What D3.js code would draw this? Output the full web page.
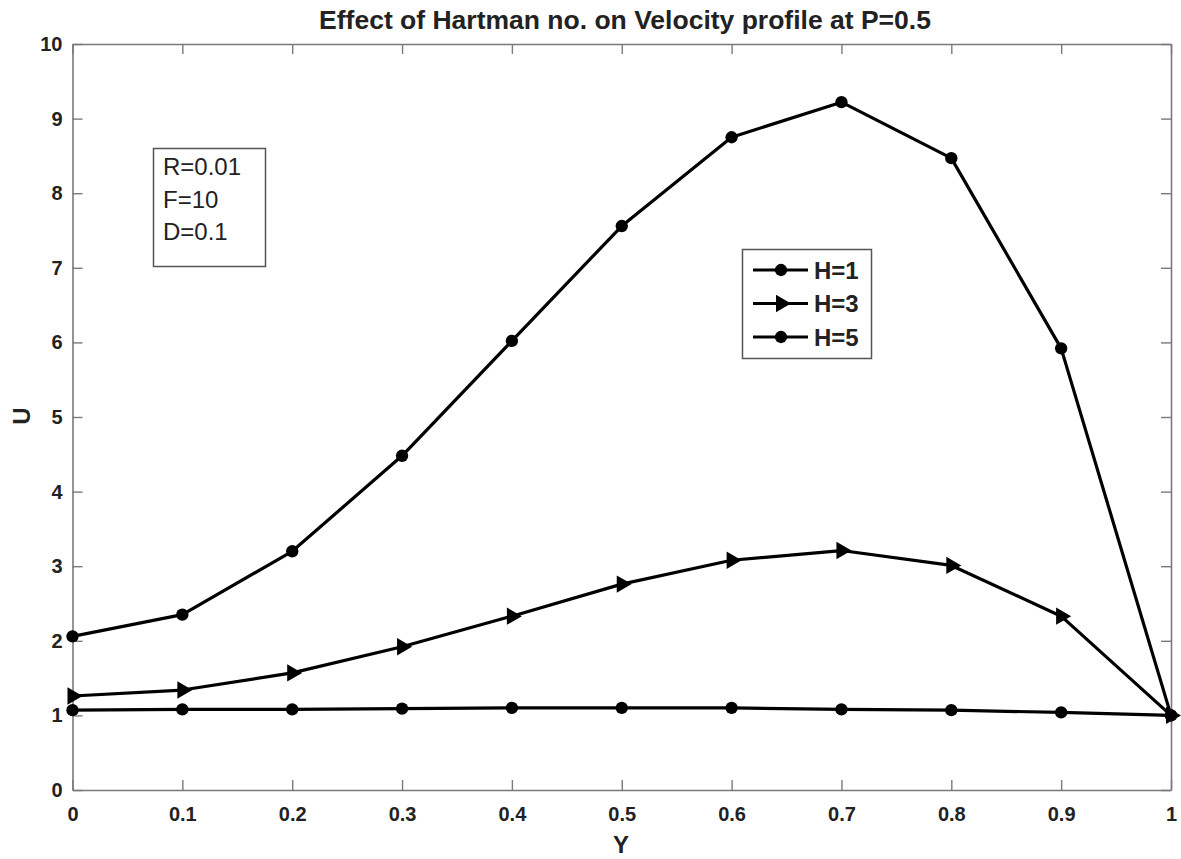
<!DOCTYPE html>
<html>
<head>
<meta charset="utf-8">
<script src="https://cdn.jsdelivr.net/npm/d3@7"></script>
<style>
  html, body { margin: 0; padding: 0; background: #fff; }
  svg { display: block; font-family: "Liberation Sans", Arial, Helvetica, sans-serif; }
</style>
</head>
<body>
<svg id="chart" width="1181" height="859"></svg>
<script>
// ---- data ----
const yPositions = [0, 0.1, 0.2, 0.3, 0.4, 0.5, 0.6, 0.7, 0.8, 0.9, 1.0];
const uH1 = [2.06, 2.35, 3.20, 4.48, 6.02, 7.56, 8.75, 9.22, 8.47, 5.92, 1.00];
const uH3 = [1.26, 1.34, 1.57, 1.92, 2.33, 2.76, 3.08, 3.21, 3.01, 2.33, 1.00];
const uH5 = [1.07, 1.08, 1.08, 1.09, 1.10, 1.10, 1.10, 1.08, 1.07, 1.04, 1.00];
const seriesNames = ["H=1", "H=3", "H=5"];
const seriesMarkers = ["circle", "triangle", "circle"];
const xTicks = [0, 0.1, 0.2, 0.3, 0.4, 0.5, 0.6, 0.7, 0.8, 0.9, 1];
const yTicks = [0, 1, 2, 3, 4, 5, 6, 7, 8, 9, 10];
const paramLines = ["R=0.01", "F=10", "D=0.1"];
const titleText = "Effect of Hartman no. on Velocity profile at P=0.5";
const xLabel = "Y";
const yLabel = "U";

const seriesValues = [uH1, uH3, uH5];

// ---- layout ----
const svg = d3.select("#chart");
const pLeft = 72.5, pRight = 1171, pTop = 44, pBottom = 790;
const x = d3.scaleLinear().domain([0, 1]).range([pLeft, pRight]);
const y = d3.scaleLinear().domain([0, 10]).range([pBottom, pTop]);

const axisColor = "#7a7a7a";
const textColor = "#222";

function styleAxis(g) {
  g.selectAll("path.domain").attr("stroke", axisColor).attr("stroke-width", 1.6);
  g.selectAll(".tick line").attr("stroke", axisColor).attr("stroke-width", 1.4);
  g.selectAll(".tick text").attr("fill", textColor)
    .attr("font-size", 20).attr("font-weight", "bold")
    .attr("font-family", "'Liberation Sans', Arial, Helvetica, sans-serif");
}

const fmt = d => (d === 0 || d === 1) ? String(d) : d3.format(".1f")(d);

svg.append("g").attr("transform", `translate(0,${pBottom})`)
  .call(d3.axisBottom(x).tickValues(xTicks).tickFormat(fmt).tickSizeInner(-10).tickSizeOuter(0).tickPadding(17))
  .call(styleAxis);
svg.append("g").attr("transform", `translate(0,${pTop})`)
  .call(d3.axisTop(x).tickValues(xTicks).tickFormat("").tickSizeInner(-10).tickSizeOuter(0))
  .call(styleAxis);
svg.append("g").attr("transform", `translate(${pLeft},0)`)
  .call(d3.axisLeft(y).tickValues(yTicks).tickFormat(d3.format("d")).tickSizeInner(-10).tickSizeOuter(0).tickPadding(10))
  .call(styleAxis);
svg.append("g").attr("transform", `translate(${pRight},0)`)
  .call(d3.axisRight(y).tickValues(yTicks).tickFormat("").tickSizeInner(-10).tickSizeOuter(0))
  .call(styleAxis);

// ---- lines ----
const line = d3.line().x((d, i) => x(yPositions[i])).y(d => y(d));
const triSym = d3.symbol().type(d3.symbolTriangle).size(130);
const cirSym = d3.symbol().type(d3.symbolCircle).size(120);

seriesValues.forEach((vals, si) => {
  svg.append("path").datum(vals)
    .attr("d", line).attr("fill", "none").attr("stroke", "#000")
    .attr("stroke-width", 3.2).attr("stroke-linejoin", "round");
  const g = svg.append("g");
  g.selectAll("path.m").data(vals).join("path")
    .attr("class", "m")
    .attr("d", seriesMarkers[si] === "triangle" ? triSym : cirSym)
    .attr("transform", (d, i) => `translate(${x(yPositions[i])},${y(d)})` + (seriesMarkers[si] === "triangle" ? " rotate(90)" : ""))
    .attr("fill", "#000");
});

// ---- title & labels ----
svg.append("text").attr("x", 625).attr("y", 29).attr("text-anchor", "middle")
  .attr("font-size", 26.5).attr("font-weight", "bold").attr("fill", textColor)
  .text(titleText);
svg.append("text").attr("x", 621).attr("y", 853).attr("text-anchor", "middle")
  .attr("font-size", 24).attr("font-weight", "bold").attr("fill", textColor)
  .text(xLabel);
svg.append("text").attr("transform", "translate(30,416) rotate(-90)").attr("text-anchor", "middle")
  .attr("font-size", 24).attr("font-weight", "bold").attr("fill", textColor)
  .text(yLabel);

// ---- parameter box ----
svg.append("rect").attr("x", 153.5).attr("y", 148.5).attr("width", 112).attr("height", 118)
  .attr("fill", "#fff").attr("stroke", "#555").attr("stroke-width", 1.5);
svg.append("g").selectAll("text").data(paramLines).join("text")
  .attr("x", 163).attr("y", (d, i) => 175 + i * 32.5)
  .attr("font-size", 24).attr("fill", textColor).text(d => d);

// ---- legend ----
const lg = svg.append("g");
lg.append("rect").attr("x", 742.5).attr("y", 249.5).attr("width", 129).attr("height", 109)
  .attr("fill", "#fff").attr("stroke", "#555").attr("stroke-width", 1.5);
const entryY = i => 270 + i * 33.5;
seriesNames.forEach((name, i) => {
  lg.append("line").attr("x1", 753).attr("x2", 808).attr("y1", entryY(i)).attr("y2", entryY(i))
    .attr("stroke", "#000").attr("stroke-width", 3.2);
  lg.append("path")
    .attr("d", seriesMarkers[i] === "triangle" ? triSym : cirSym)
    .attr("transform", `translate(781,${entryY(i)})` + (seriesMarkers[i] === "triangle" ? " rotate(90)" : ""))
    .attr("fill", "#000");
  lg.append("text").attr("x", 814).attr("y", entryY(i) + 8.5)
    .attr("font-size", 24).attr("font-weight", "bold").attr("fill", textColor).text(name);
});
</script>
</body>
</html>
